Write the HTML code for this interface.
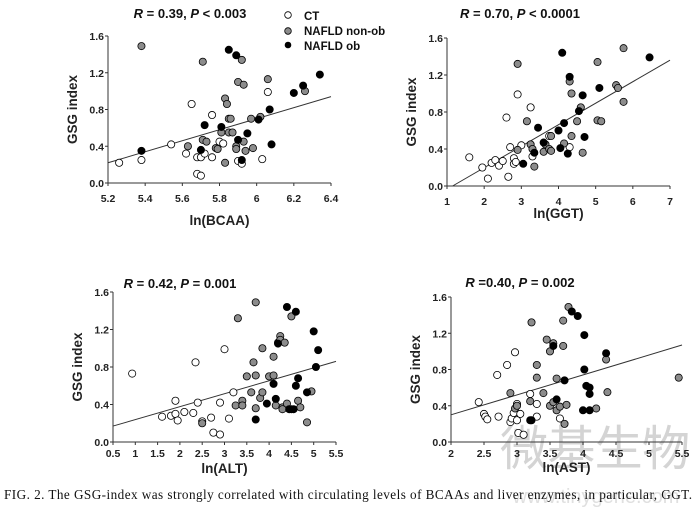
<!DOCTYPE html>
<html><head><meta charset="utf-8"><style>
body{margin:0;background:#fff;width:697px;height:510px;overflow:hidden}
svg text{font-family:"Liberation Sans",sans-serif}
</style></head><body>
<svg id="s" width="697" height="510" xmlns="http://www.w3.org/2000/svg">
<text x="500" y="465" font-size="48" fill="#d4d4d4" style="font-family:'Noto Sans CJK SC',sans-serif" textLength="190" lengthAdjust="spacing">微基生物</text>
<text x="596" y="503" font-size="20" fill="#e0e0e0" text-anchor="middle">www.tinygene.com</text>
</svg>
<script>
const s=document.getElementById('s');const NS='http://www.w3.org/2000/svg';
function el(t,a,txt){const e=document.createElementNS(NS,t);for(const k in a)e.setAttribute(k,a[k]);if(txt!==undefined)e.textContent=txt;s.appendChild(e);return e;}
function panel(P){
 const X=v=>P.x0+(v-P.xmin)/(P.xmax-P.xmin)*(P.x1-P.x0);
 const Y=v=>P.y0-(v/1.6)*(P.y0-P.y1);
 el('line',{x1:P.x0,y1:P.y0,x2:P.x1,y2:P.y0,stroke:'#333','stroke-width':1});
 el('line',{x1:P.x0,y1:P.y0,x2:P.x0,y2:P.y1,stroke:'#333','stroke-width':1});
 [0,0.4,0.8,1.2,1.6].forEach(v=>{el('line',{x1:P.x0-3,y1:Y(v),x2:P.x0,y2:Y(v),stroke:'#333'});
  el('text',{x:P.x0-4,y:Y(v)+4,'font-size':10.5,'font-weight':'bold','text-anchor':'end',fill:'#222'},v.toFixed(1));});
 P.ticks.forEach(v=>{el('line',{x1:X(v),y1:P.y0,x2:X(v),y2:P.y0+3,stroke:'#333'});
  el('text',{x:X(v),y:P.y0+P.tl,'font-size':10.5,'font-weight':'bold','text-anchor':'middle',fill:'#222'},String(v));});
 el('text',{x:(P.x0+P.x1)/2,y:P.xly,'font-size':13.5,'font-weight':'bold','text-anchor':'middle',fill:'#222'},P.xl);
 el('text',{transform:`translate(${P.x0-31},${(P.y0+P.y1)/2}) rotate(-90)`,'font-size':13.5,'font-weight':'bold','text-anchor':'middle',fill:'#222'},'GSG index');
 el('line',{x1:X(P.l[0]),y1:Y(P.l[1]),x2:X(P.l[2]),y2:Y(P.l[3]),stroke:'#333','stroke-width':1});
 const t=el('text',{x:P.tx,y:P.ty,'font-size':13,'font-weight':'bold','text-anchor':'middle',fill:'#111'});
 t.innerHTML=P.title;
 const cols={o:'#fff',g:'#8c8c8c',b:'#000'};
 ['o','g','b'].forEach(k=>P[k].forEach(p=>el('circle',{cx:X(p[0]),cy:Y(p[1]),r:3.6,fill:cols[k],stroke:'#000','stroke-width':0.8})));
}
const RP=(a,b)=>`<tspan font-style="italic">R</tspan>${a}<tspan font-style="italic">P</tspan>${b}`;
panel({x0:108,x1:331,y0:183,y1:36,xmin:5.2,xmax:6.4,ticks:[5.2,5.4,5.6,5.8,6,6.2,6.4],tl:19,xl:'ln(BCAA)',xly:225,
 l:[5.2,0.22,6.4,0.94],title:RP(' = 0.39, ',' < 0.003'),tx:190,ty:18,
 o:[[5.26,.22],[5.38,.25],[5.54,.42],[5.62,.32],[5.65,.86],[5.68,.28],[5.7,.28],[5.72,.32],[5.76,.28],[5.76,.74],[5.68,.1],[5.7,.08],[5.8,.45],[5.82,.43],[5.9,.24],[5.92,.21],[6.03,.26],[6.06,.99]],
 g:[[5.38,1.49],[5.63,.4],[5.71,1.32],[5.71,.47],[5.73,.45],[5.78,.38],[5.79,.37],[5.81,.55],[5.83,.22],[5.83,.92],[5.84,.86],[5.85,.7],[5.86,.7],[5.85,.55],[5.87,.55],[5.89,.4],[5.89,.37],[5.9,1.1],[5.92,1.34],[5.93,1.07],[5.93,.45],[5.94,.35],[5.97,.7],[5.98,.38],[6.02,.72],[6.06,1.13],[6.26,1.0]],
 b:[[5.38,.35],[5.7,.36],[5.72,.63],[5.81,.61],[5.85,1.45],[5.89,1.39],[5.9,.47],[5.95,.54],[6.01,.69],[6.07,.8],[6.08,.42],[6.2,.98],[6.25,1.06],[6.34,1.18],[5.92,.25]]});
panel({x0:447,x1:670,y0:186,y1:38,xmin:1,xmax:7,ticks:[1,2,3,4,5,6,7],tl:19,xl:'ln(GGT)',xly:218,
 l:[1.15,0,7,1.36],title:RP(' = 0.70, ',' < 0.0001'),tx:520,ty:18,
 o:[[1.6,.31],[1.95,.2],[2.1,.08],[2.2,.25],[2.3,.28],[2.4,.22],[2.5,.27],[2.6,.74],[2.65,.1],[2.7,.42],[2.8,.24],[2.8,.3],[2.85,.26],[2.9,.99],[3.0,.44],[3.25,.85],[3.3,.32],[3.75,.54],[4.3,.42]],
 g:[[2.9,1.32],[2.9,.39],[3.15,.7],[3.25,.45],[3.3,.4],[3.35,.21],[3.6,.37],[3.65,.45],[3.75,.4],[3.8,.38],[3.8,.54],[4.15,.46],[4.3,1.13],[4.35,1.0],[4.35,.54],[4.5,.7],[4.6,.85],[4.65,.36],[5.05,1.34],[5.05,.71],[5.15,.7],[5.55,1.09],[5.6,1.06],[5.75,1.49],[5.75,.91]],
 b:[[3.05,.24],[3.35,.36],[3.45,.63],[3.6,.47],[4.0,.6],[4.05,.41],[4.1,1.44],[4.15,.68],[4.25,.35],[4.3,1.18],[4.55,.81],[4.65,.98],[4.7,.53],[5.1,1.06],[6.45,1.39]]});
panel({x0:113,x1:336,y0:442,y1:292,xmin:0.5,xmax:5.5,ticks:[0.5,1,1.5,2,2.5,3,3.5,4,4.5,5,5.5],tl:15,xl:'ln(ALT)',xly:473,
 l:[0.5,0.17,5.5,0.86],title:RP(' = 0.42, ',' = 0.001'),tx:180,ty:288,
 o:[[0.93,.73],[1.6,.27],[1.8,.28],[1.9,.44],[1.9,.3],[1.95,.23],[2.1,.32],[2.3,.31],[2.35,.85],[2.4,.42],[2.5,.22],[2.7,.26],[2.75,.1],[2.9,.08],[2.9,.42],[3.0,.99],[3.1,.25],[3.2,.53]],
 g:[[2.5,.2],[3.25,.39],[3.3,1.32],[3.4,.44],[3.4,.39],[3.5,.7],[3.6,.53],[3.65,.85],[3.7,1.49],[3.7,.71],[3.7,.36],[3.8,.47],[3.85,.53],[3.85,1.0],[4.0,.7],[4.1,.91],[4.1,.71],[4.15,.39],[4.2,1.06],[4.25,1.13],[4.25,1.09],[4.3,.37],[4.3,.35],[4.35,1.06],[4.4,.41],[4.5,1.34],[4.65,.44],[4.7,.37],[4.85,.21],[4.95,.54]],
 b:[[3.7,.24],[3.95,.41],[4.1,.62],[4.15,.46],[4.2,1.05],[4.4,1.44],[4.45,.35],[4.5,.35],[4.55,.35],[4.6,1.39],[4.6,.6],[4.65,.68],[4.85,.53],[5.0,1.18],[5.05,.8],[5.1,.98]]});
panel({x0:451,x1:682,y0:442,y1:297,xmin:2,xmax:5.5,ticks:[2,2.5,3,3.5,4,4.5,5,5.5],tl:15,xl:'ln(AST)',xly:472,
 l:[2,0.3,5.5,1.07],title:RP(' =0.40, ',' = 0.002'),tx:520,ty:287,
 o:[[2.42,.44],[2.5,.31],[2.52,.28],[2.55,.25],[2.7,.74],[2.72,.28],[2.85,.85],[2.9,.22],[2.92,.26],[2.95,.32],[2.97,.99],[3.0,.42],[3.0,.24],[3.02,.1],[3.05,.31],[3.1,.08],[3.2,.53],[3.3,.42],[3.3,.28],[3.65,.26]],
 g:[[2.9,.54],[2.97,.37],[3.0,.4],[3.2,.45],[3.22,1.32],[3.3,.85],[3.3,.71],[3.4,.54],[3.45,1.13],[3.5,1.0],[3.5,.4],[3.55,1.09],[3.55,.44],[3.6,.7],[3.6,.35],[3.65,.39],[3.7,1.06],[3.7,1.34],[3.72,.2],[3.75,.41],[3.78,1.49],[4.2,.37],[4.35,.91],[4.37,.55],[5.45,.71]],
 b:[[3.2,.24],[3.22,.24],[3.55,1.06],[3.6,.47],[3.72,.68],[3.83,1.44],[3.92,1.39],[4.0,.35],[4.02,1.18],[4.02,.8],[4.05,.62],[4.1,.6],[4.1,.53],[4.1,.35],[4.35,.98]]});
el('text',{x:4,y:499,'font-size':13.2,fill:'#111',textLength:688,lengthAdjust:'spacing',style:"font-family:'Liberation Serif',serif"},'FIG. 2. The GSG-index was strongly correlated with circulating levels of BCAAs and liver enzymes, in particular, GGT.');
el('circle',{cx:288,cy:15,r:3.3,fill:'#fff',stroke:'#000','stroke-width':0.8});
el('circle',{cx:288,cy:31,r:3.3,fill:'#8c8c8c',stroke:'#000','stroke-width':0.8});
el('circle',{cx:288,cy:45,r:3.3,fill:'#000'});
el('text',{x:304,y:20,'font-size':11.5,'font-weight':'bold',fill:'#111'},'CT');
el('text',{x:304,y:35,'font-size':11.5,'font-weight':'bold',fill:'#111'},'NAFLD  non-ob');
el('text',{x:304,y:50,'font-size':11.5,'font-weight':'bold',fill:'#111'},'NAFLD ob');
</script>
</body></html>
